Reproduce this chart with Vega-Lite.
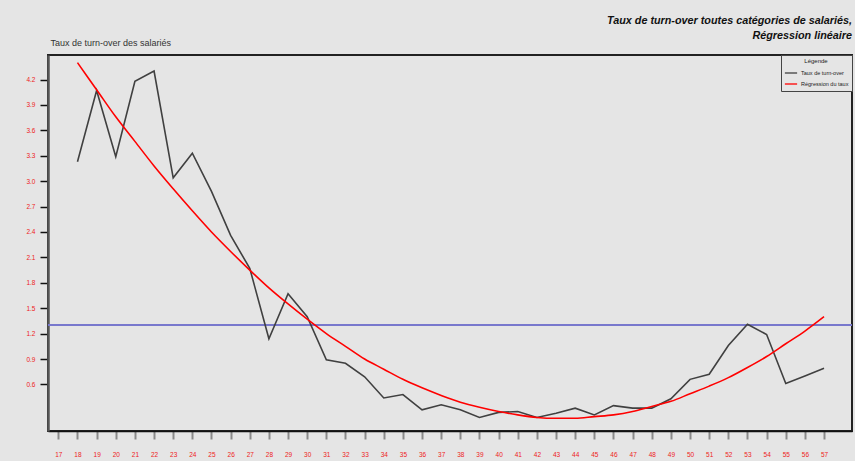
{
  "$schema": "https://vega.github.io/schema/vega-lite/v6.json",
  "width": 804,
  "height": 376,
  "autosize": {"type": "none"},
  "padding": {"left": 48, "top": 55, "right": 3, "bottom": 30},
  "background": "#e5e5e5",
  "title": {
    "text": ["Taux de turn-over toutes catégories de salariés,", "Régression linéaire"],
    "anchor": "end",
    "frame": "group",
    "font": "Liberation Sans",
    "fontSize": 10.8,
    "fontStyle": "italic",
    "fontWeight": "bold",
    "color": "#111111",
    "lineHeight": 15,
    "offset": -3
  },
  "data": {
    "values": [
      {"age": 18, "taux": 3.23, "reg": 4.40},
      {"age": 19, "taux": 4.07, "reg": 4.08},
      {"age": 20, "taux": 3.29, "reg": 3.76},
      {"age": 21, "taux": 4.18, "reg": 3.47},
      {"age": 22, "taux": 4.30, "reg": 3.18},
      {"age": 23, "taux": 3.04, "reg": 2.91},
      {"age": 24, "taux": 3.33, "reg": 2.65},
      {"age": 25, "taux": 2.88, "reg": 2.40},
      {"age": 26, "taux": 2.36, "reg": 2.17},
      {"age": 27, "taux": 1.97, "reg": 1.95},
      {"age": 28, "taux": 1.14, "reg": 1.74},
      {"age": 29, "taux": 1.67, "reg": 1.55},
      {"age": 30, "taux": 1.40, "reg": 1.37},
      {"age": 31, "taux": 0.89, "reg": 1.20},
      {"age": 32, "taux": 0.85, "reg": 1.05},
      {"age": 33, "taux": 0.69, "reg": 0.90},
      {"age": 34, "taux": 0.44, "reg": 0.78},
      {"age": 35, "taux": 0.48, "reg": 0.66},
      {"age": 36, "taux": 0.30, "reg": 0.56},
      {"age": 37, "taux": 0.36, "reg": 0.47},
      {"age": 38, "taux": 0.30, "reg": 0.39},
      {"age": 39, "taux": 0.21, "reg": 0.33},
      {"age": 40, "taux": 0.27, "reg": 0.28},
      {"age": 41, "taux": 0.28, "reg": 0.24},
      {"age": 42, "taux": 0.21, "reg": 0.21},
      {"age": 43, "taux": 0.26, "reg": 0.20},
      {"age": 44, "taux": 0.32, "reg": 0.20},
      {"age": 45, "taux": 0.24, "reg": 0.22},
      {"age": 46, "taux": 0.35, "reg": 0.24},
      {"age": 47, "taux": 0.32, "reg": 0.28},
      {"age": 48, "taux": 0.32, "reg": 0.34},
      {"age": 49, "taux": 0.43, "reg": 0.40},
      {"age": 50, "taux": 0.66, "reg": 0.49},
      {"age": 51, "taux": 0.72, "reg": 0.58},
      {"age": 52, "taux": 1.06, "reg": 0.68},
      {"age": 53, "taux": 1.31, "reg": 0.80},
      {"age": 54, "taux": 1.19, "reg": 0.93},
      {"age": 55, "taux": 0.61, "reg": 1.08},
      {"age": 56, "taux": 0.70, "reg": 1.23},
      {"age": 57, "taux": 0.79, "reg": 1.40}
    ]
  },
  "encoding": {
    "x": {
      "field": "age",
      "type": "quantitative",
      "scale": {"domain": [16.46, 58.46], "nice": false, "zero": false},
      "axis": {
        "values": [17,18,19,20,21,22,23,24,25,26,27,28,29,30,31,32,33,34,35,36,37,38,39,40,41,42,43,44,45,46,47,48,49,50,51,52,53,54,55,56,57],
        "format": "d",
        "title": null
      }
    }
  },
  "layer": [
    {
      "mark": {"type": "rule", "color": "#7878cc", "strokeWidth": 1},
      "encoding": {
        "x": null,
        "y": {
          "datum": 1.30,
          "type": "quantitative",
          "scale": {"domain": [0.05, 4.49], "nice": false, "zero": false},
          "axis": {
            "values": [0.6,0.9,1.2,1.5,1.8,2.1,2.4,2.7,3.0,3.3,3.6,3.9,4.2],
            "format": ".1f",
            "title": "Taux de turn-over des salariés"
          }
        }
      }
    },
    {
      "mark": {"type": "line", "strokeWidth": 1.6},
      "encoding": {
        "y": {
          "field": "taux",
          "type": "quantitative",
          "axis": {
            "values": [0.6,0.9,1.2,1.5,1.8,2.1,2.4,2.7,3.0,3.3,3.6,3.9,4.2],
            "format": ".1f",
            "title": "Taux de turn-over des salariés"
          }
        },
        "color": {
          "datum": "Taux de turn-over",
          "scale": {"domain": ["Taux de turn-over", "Régression du taux"], "range": ["#404040", "#ff0000"]},
          "legend": {
            "title": "Légende",
            "orient": "top-right",
            "offset": 0,
            "fillColor": "#e5e5e5",
            "strokeColor": "#444444",
            "padding": 3,
            "symbolType": "stroke",
            "symbolSize": 150,
            "symbolStrokeWidth": 1.3,
            "titleFont": "Liberation Sans",
            "titleFontSize": 6,
            "titleFontWeight": "normal",
            "titleColor": "#222222",
            "titleAnchor": "middle",
            "titleAlign": "center",
            "titlePadding": 2,
            "labelFont": "Liberation Sans",
            "labelFontSize": 5.5,
            "labelColor": "#222222",
            "rowPadding": -4,
            "labelOffset": 3
          }
        }
      }
    },
    {
      "mark": {"type": "line", "strokeWidth": 1.6, "interpolate": "monotone"},
      "encoding": {
        "y": {
          "field": "reg",
          "type": "quantitative",
          "axis": {
            "values": [0.6,0.9,1.2,1.5,1.8,2.1,2.4,2.7,3.0,3.3,3.6,3.9,4.2],
            "format": ".1f",
            "title": "Taux de turn-over des salariés"
          }
        },
        "color": {"datum": "Régression du taux"}
      }
    }
  ],
  "config": {
    "view": {"fill": "#e5e5e5", "stroke": "#222222", "strokeWidth": 2},
    "axisX": {
      "grid": false,
      "labelOverlap": false,
      "domainColor": "#111111",
      "domainWidth": 1.5,
      "tickColor": "#8a8a8a",
      "tickWidth": 2,
      "tickSize": 8,
      "labelColor": "#ee2222",
      "labelFont": "Liberation Sans",
      "labelFontSize": 6.5,
      "labelPadding": 12,
      "labelBaseline": "top"
    },
    "axisY": {
      "grid": false,
      "labelOverlap": false,
      "titleAngle": 0,
      "titleAlign": "left",
      "titleBaseline": "middle",
      "titleX": 2,
      "titleY": -13,
      "titleFont": "Liberation Sans",
      "titleFontSize": 9,
      "titleFontWeight": "normal",
      "titleColor": "#333333",
      "domainColor": "#555555",
      "domainWidth": 2.5,
      "tickColor": "#111111",
      "tickWidth": 1.5,
      "tickSize": 8,
      "labelColor": "#ee2222",
      "labelFont": "Liberation Sans",
      "labelFontSize": 6.5,
      "labelPadding": 5
    }
  }
}
